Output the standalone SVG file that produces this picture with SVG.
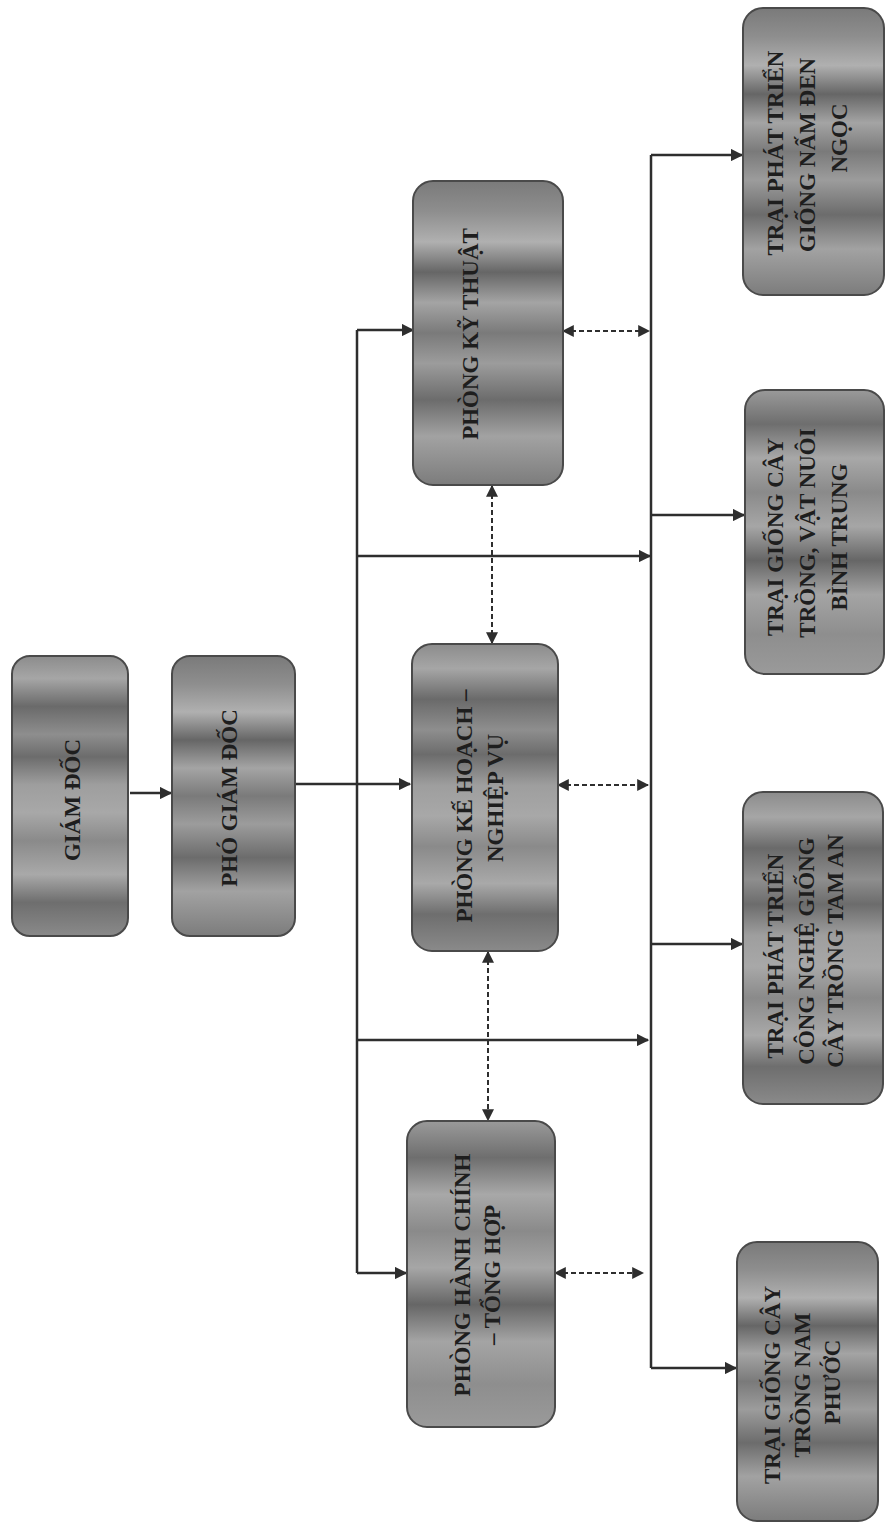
<svg xmlns="http://www.w3.org/2000/svg" width="886" height="1524" viewBox="0 0 886 1524">
<style>
.box{stroke:#4a4a4a;stroke-width:2}
.lbl{font-family:"Liberation Serif","Times New Roman",serif;font-weight:bold;font-size:23px;fill:#1e1e1e;text-anchor:middle}
.ln{stroke:#2e2e2e;stroke-width:2.5;fill:none}
.dl{stroke:#2e2e2e;stroke-width:2;fill:none;stroke-dasharray:5 3}
</style>
<defs>
<linearGradient id="g1" x1="0" y1="0" x2="0" y2="1">
<stop offset="0" stop-color="#8c8c8c"/><stop offset="0.08" stop-color="#a6a6a6"/><stop offset="0.18" stop-color="#6a6a6a"/><stop offset="0.28" stop-color="#8e8e8e"/><stop offset="0.36" stop-color="#6c6c6c"/><stop offset="0.46" stop-color="#9e9e9e"/><stop offset="0.56" stop-color="#a8a8a8"/><stop offset="0.66" stop-color="#8a8a8a"/><stop offset="0.78" stop-color="#a9a9a9"/><stop offset="0.88" stop-color="#6e6e6e"/><stop offset="1" stop-color="#8a8a8a"/>
</linearGradient>
<linearGradient id="g2" x1="0" y1="0" x2="0" y2="1">
<stop offset="0" stop-color="#7a7a7a"/><stop offset="0.1" stop-color="#8e8e8e"/><stop offset="0.2" stop-color="#b0b0b0"/><stop offset="0.3" stop-color="#666666"/><stop offset="0.4" stop-color="#a4a4a4"/><stop offset="0.5" stop-color="#7a7a7a"/><stop offset="0.6" stop-color="#9c9c9c"/><stop offset="0.72" stop-color="#6c6c6c"/><stop offset="0.84" stop-color="#a2a2a2"/><stop offset="1" stop-color="#7c7c7c"/>
</linearGradient>
<linearGradient id="g3" x1="0" y1="0" x2="0" y2="1">
<stop offset="0" stop-color="#9a9a9a"/><stop offset="0.12" stop-color="#6e6e6e"/><stop offset="0.24" stop-color="#a8a8a8"/><stop offset="0.36" stop-color="#8a8a8a"/><stop offset="0.48" stop-color="#a6a6a6"/><stop offset="0.6" stop-color="#666666"/><stop offset="0.72" stop-color="#a4a4a4"/><stop offset="0.86" stop-color="#8e8e8e"/><stop offset="1" stop-color="#9a9a9a"/>
</linearGradient>
<marker id="ah" viewBox="0 0 10 10" refX="9" refY="5" markerWidth="5" markerHeight="5" markerUnits="strokeWidth" orient="auto-start-reverse">
<path d="M0,0 L10,5 L0,10 z" fill="#2e2e2e"/>
</marker>
<marker id="ahd" viewBox="0 0 10 10" refX="9" refY="5" markerWidth="6" markerHeight="6" markerUnits="strokeWidth" orient="auto-start-reverse">
<path d="M0,0 L10,5 L0,10 z" fill="#2e2e2e"/>
</marker>
</defs>
<rect width="886" height="1524" fill="#ffffff"/>

<g id="connectors">
<line class="ln" x1="130" y1="793" x2="171" y2="793" marker-end="url(#ah)"/>
<line class="ln" x1="295" y1="784" x2="410" y2="784" marker-end="url(#ah)"/>
<line class="ln" x1="357" y1="330" x2="357" y2="1273"/>
<polyline class="ln" points="357,330 413,330" marker-end="url(#ah)"/>
<polyline class="ln" points="357,1273 406,1273" marker-end="url(#ah)"/>
<line class="ln" x1="358" y1="556" x2="650" y2="556" marker-end="url(#ah)"/>
<line class="ln" x1="358" y1="1040" x2="648" y2="1040" marker-end="url(#ah)"/>
<line class="ln" x1="651" y1="155" x2="651" y2="1368"/>
<line class="ln" x1="651" y1="155" x2="742" y2="155" marker-end="url(#ah)"/>
<line class="ln" x1="651" y1="515" x2="744" y2="515" marker-end="url(#ah)"/>
<line class="ln" x1="651" y1="944" x2="742" y2="944" marker-end="url(#ah)"/>
<line class="ln" x1="651" y1="1368" x2="736" y2="1368" marker-end="url(#ah)"/>
<line class="dl" x1="563" y1="331" x2="649" y2="331" marker-start="url(#ahd)" marker-end="url(#ahd)"/>
<line class="dl" x1="558" y1="785" x2="648" y2="785" marker-start="url(#ahd)" marker-end="url(#ahd)"/>
<line class="dl" x1="555" y1="1273" x2="643" y2="1273" marker-start="url(#ahd)" marker-end="url(#ahd)"/>
<line class="dl" x1="492" y1="486" x2="492" y2="643" marker-start="url(#ahd)" marker-end="url(#ahd)"/>
<line class="dl" x1="488" y1="952" x2="488" y2="1120" marker-start="url(#ahd)" marker-end="url(#ahd)"/>
</g>

<g id="giam-doc">
<rect class="box" x="12" y="656" width="116" height="280" rx="18" fill="url(#g1)"/>
<text class="lbl" transform="translate(80,800) rotate(-90)">GIÁM ĐỐC</text>
</g>
<g id="pho-giam-doc">
<rect class="box" x="172" y="656" width="123" height="280" rx="18" fill="url(#g2)"/>
<text class="lbl" transform="translate(237,798) rotate(-90)">PHÓ GIÁM ĐỐC</text>
</g>
<g id="phong-ky-thuat">
<rect class="box" x="413" y="181" width="150" height="304" rx="20" fill="url(#g2)"/>
<text class="lbl" transform="translate(478,334) rotate(-90)">PHÒNG KỸ THUẬT</text>
</g>
<g id="phong-ke-hoach">
<rect class="box" x="412" y="644" width="146" height="307" rx="20" fill="url(#g1)"/>
<text class="lbl" transform="translate(472,806) rotate(-90)">PHÒNG KẾ HOẠCH –</text>
<text class="lbl" transform="translate(503,798) rotate(-90)">NGHIỆP VỤ</text>
</g>
<g id="phong-hanh-chinh">
<rect class="box" x="407" y="1121" width="148" height="306" rx="20" fill="url(#g3)"/>
<text class="lbl" transform="translate(470,1275) rotate(-90)">PHÒNG HÀNH CHÍNH</text>
<text class="lbl" transform="translate(500,1275) rotate(-90)">– TỔNG HỢP</text>
</g>
<g id="trai-den-ngoc">
<rect class="box" x="743" y="8" width="141" height="287" rx="20" fill="url(#g2)"/>
<text class="lbl" transform="translate(783,153) rotate(-90)">TRẠI PHÁT TRIỂN</text>
<text class="lbl" transform="translate(815,155) rotate(-90)">GIỐNG NẤM ĐEN</text>
<text class="lbl" transform="translate(847,138) rotate(-90)">NGỌC</text>
</g>
<g id="trai-binh-trung">
<rect class="box" x="745" y="390" width="139" height="284" rx="20" fill="url(#g3)"/>
<text class="lbl" transform="translate(783,537) rotate(-90)">TRẠI GIỐNG CÂY</text>
<text class="lbl" transform="translate(815,533) rotate(-90)">TRỒNG, VẬT NUÔI</text>
<text class="lbl" transform="translate(847,537) rotate(-90)">BÌNH TRUNG</text>
</g>
<g id="trai-tam-an">
<rect class="box" x="743" y="792" width="140" height="312" rx="20" fill="url(#g1)"/>
<text class="lbl" transform="translate(783,956) rotate(-90)">TRẠI PHÁT TRIỂN</text>
<text class="lbl" transform="translate(814,951) rotate(-90)">CÔNG NGHỆ GIỐNG</text>
<text class="lbl" transform="translate(843,951) rotate(-90)">CÂY TRỒNG TAM AN</text>
</g>
<g id="trai-nam-phuoc">
<rect class="box" x="737" y="1242" width="141" height="279" rx="20" fill="url(#g2)"/>
<text class="lbl" transform="translate(780,1385) rotate(-90)">TRẠI GIỐNG CÂY</text>
<text class="lbl" transform="translate(810,1385) rotate(-90)">TRỒNG NAM</text>
<text class="lbl" transform="translate(840,1382) rotate(-90)">PHƯỚC</text>
</g>
</svg>
